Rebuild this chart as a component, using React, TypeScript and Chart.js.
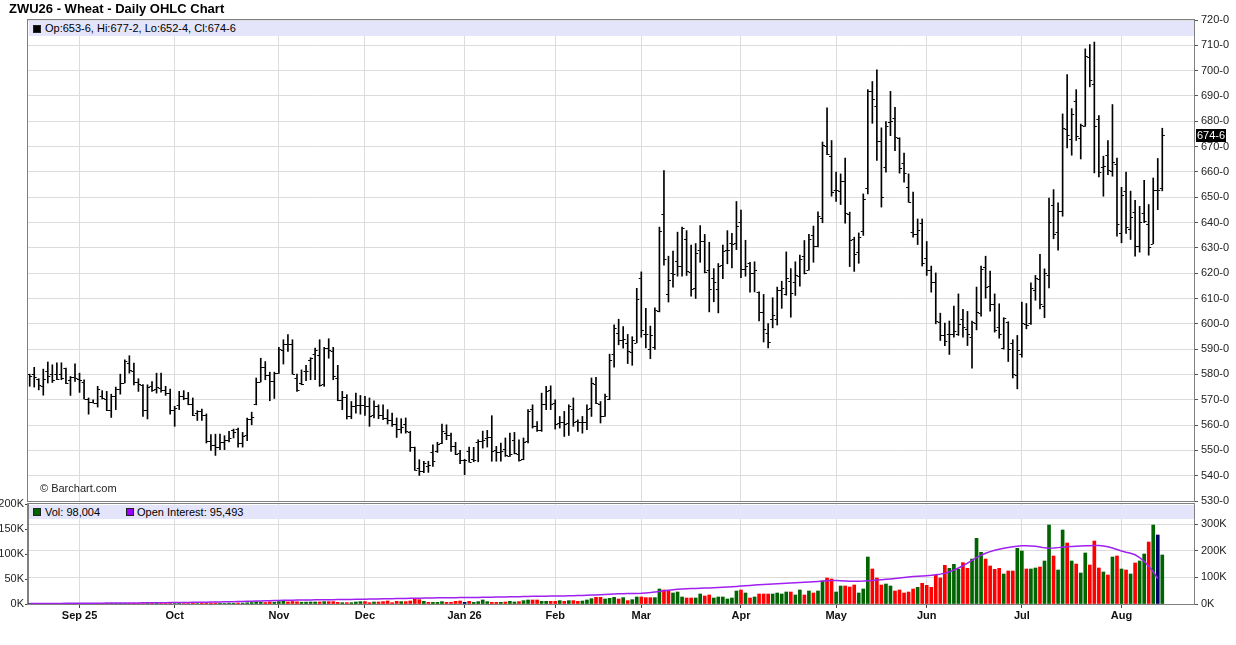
import React, { useEffect, useRef } from "react";
import { Chart, registerables } from "chart.js";

Chart.register(...registerables);

// ---------- data ----------
const chartTitle = "ZWU26 - Wheat - Daily OHLC Chart";
const firstTradingDay = "2025-08-15";
const exchangeHolidays = [
  "2025-09-01", "2025-11-27", "2025-12-25", "2026-01-01", "2026-01-19",
  "2026-02-16", "2026-04-03", "2026-05-25", "2026-06-19", "2026-07-03",
];

const opens = [
  580.0, 580.1, 578.0, 575.5, 581.2, 580.1, 580.1, 580.1, 582.5, 577.6,
  578.8, 578.2, 577.2, 570.4, 569.3, 568.9, 571.6, 570.4, 566.1, 571.3,
  574.2, 576.6, 584.5, 581.2, 577.2, 575.9, 566.1, 575.3, 574.2, 574.6,
  573.9, 572.6, 565.8, 568.0, 571.3, 570.7, 568.4, 564.7, 565.4, 564.1,
  553.8, 552.2, 551.3, 553.4, 554.2, 558.0, 558.4, 552.9, 556.2, 562.4,
  568.3, 577.0, 582.9, 579.9, 577.5, 580.5, 589.7, 592.2, 592.0, 578.6,
  576.6, 581.2, 585.8, 588.0, 587.8, 576.2, 590.4, 589.3, 578.6, 570.0,
  570.9, 563.7, 567.4, 567.8, 568.0, 567.4, 564.1, 567.5, 564.1, 562.8,
  562.1, 560.4, 558.6, 560.4, 557.1, 551.2, 543.0, 541.7, 543.7, 549.2,
  549.6, 552.9, 556.8, 555.9, 551.6, 548.9, 546.3, 549.6, 546.6, 553.2,
  553.6, 554.9, 555.3, 550.0, 549.2, 550.5, 547.9, 554.2, 548.7, 546.6,
  553.6, 566.3, 559.7, 558.2, 568.3, 573.7, 568.7, 560.8, 561.1, 560.8,
  566.3, 561.7, 561.1, 561.4, 566.7, 576.3, 568.4, 563.7, 570.3, 588.0,
  596.3, 593.7, 592.5, 589.0, 592.5, 618.2, 595.8, 589.9, 590.9, 605.0,
  643.4, 611.6, 620.1, 625.0, 623.0, 633.3, 620.4, 614.2, 629.3, 632.6,
  621.2, 617.9, 613.9, 623.2, 629.0, 632.0, 632.0, 640.3, 621.7, 624.1,
  620.1, 612.6, 604.6, 596.4, 601.7, 601.7, 613.3, 611.8, 616.8, 616.6,
  618.8, 626.7, 621.4, 635.0, 630.7, 641.8, 670.1, 666.2, 653.0, 652.6,
  656.6, 643.4, 633.6, 628.3, 636.8, 653.6, 691.8, 685.9, 672.1, 661.8,
  679.6, 681.2, 673.4, 663.6, 653.9, 636.2, 635.3, 639.9, 625.9, 621.4,
  616.7, 600.7, 595.7, 595.8, 595.8, 595.8, 602.0, 598.0, 594.7, 600.4,
  604.3, 622.4, 615.1, 607.9, 598.7, 590.4, 600.7, 592.5, 579.9, 588.2,
  600.1, 600.4, 613.2, 617.8, 607.0, 619.1, 646.8, 636.2, 644.5, 677.0,
  672.8, 687.9, 673.2, 678.3, 705.4, 694.9, 680.9, 662.0, 666.8, 660.3,
  663.3, 635.7, 652.4, 637.5, 644.1, 630.9, 643.6, 639.6, 631.7, 652.75,
  653.75,
];
const highs = [
  580.1, 582.8, 578.3, 582.1, 584.9, 583.8, 584.6, 584.6, 582.5, 579.2,
  584.2, 580.5, 577.9, 570.7, 570.0, 575.3, 573.6, 573.3, 572.2, 575.0,
  580.1, 585.8, 587.4, 584.5, 578.3, 576.0, 575.9, 577.2, 580.5, 580.5,
  575.3, 574.2, 567.4, 573.3, 573.6, 572.9, 570.7, 565.7, 566.3, 564.4,
  556.2, 556.4, 556.4, 555.8, 557.5, 558.4, 558.8, 557.1, 562.8, 565.1,
  578.6, 586.4, 585.1, 580.9, 580.9, 590.7, 593.7, 595.7, 593.7, 580.1,
  581.8, 583.6, 586.6, 590.4, 593.7, 590.7, 594.1, 590.7, 583.6, 573.3,
  572.0, 569.3, 572.6, 571.7, 571.3, 570.7, 569.6, 568.0, 568.0, 566.1,
  564.7, 562.8, 562.5, 562.8, 557.5, 551.3, 546.3, 545.7, 545.7, 552.2,
  553.2, 560.4, 560.1, 556.8, 553.2, 550.0, 546.5, 551.3, 551.2, 554.2,
  557.6, 557.9, 563.7, 551.6, 552.9, 554.9, 556.8, 557.1, 554.2, 554.9,
  566.1, 568.0, 561.4, 572.6, 575.3, 575.5, 570.0, 563.4, 565.4, 568.0,
  570.7, 562.1, 563.4, 568.0, 578.6, 578.9, 569.3, 572.2, 588.0, 599.6,
  601.8, 598.9, 595.8, 594.9, 614.0, 620.5, 606.1, 599.1, 606.3, 638.2,
  660.5, 626.7, 628.7, 636.2, 638.2, 636.8, 631.1, 631.7, 638.8, 635.3,
  632.2, 621.8, 623.8, 631.1, 636.8, 635.7, 648.3, 644.9, 633.0, 624.3,
  624.5, 612.6, 611.6, 600.1, 610.3, 614.5, 616.8, 628.4, 621.8, 624.5,
  627.1, 632.9, 635.3, 638.6, 644.2, 671.8, 685.3, 672.4, 659.9, 659.2,
  665.5, 644.1, 634.2, 635.9, 651.3, 692.5, 695.7, 700.3, 677.4, 679.9,
  691.8, 685.5, 673.5, 667.4, 659.2, 652.0, 641.4, 641.4, 632.5, 622.8,
  620.1, 604.2, 600.3, 601.1, 607.0, 611.8, 605.7, 604.9, 601.1, 614.5,
  622.8, 626.7, 620.8, 611.8, 607.9, 602.4, 600.8, 593.7, 595.4, 608.6,
  608.0, 616.2, 619.1, 627.4, 621.7, 649.7, 653.0, 647.8, 682.9, 698.4,
  685.0, 692.5, 678.9, 708.6, 710.3, 711.3, 682.2, 666.2, 672.4, 686.6,
  665.5, 653.9, 659.9, 652.4, 648.8, 646.4, 656.7, 647.1, 657.6, 665.3,
  677.25,
];
const lows = [
  575.3, 575.0, 573.9, 571.8, 576.6, 576.8, 577.9, 577.9, 576.3, 571.7,
  577.2, 572.9, 570.3, 564.3, 568.7, 567.1, 570.3, 565.7, 563.0, 566.1,
  572.2, 576.6, 580.5, 575.9, 573.3, 563.4, 562.4, 573.3, 572.6, 573.0,
  571.7, 564.3, 559.5, 566.1, 570.0, 568.0, 563.7, 561.8, 561.8, 552.9,
  550.0, 548.0, 550.3, 550.3, 553.3, 554.9, 551.3, 551.3, 553.8, 560.1,
  568.0, 577.0, 577.9, 569.6, 570.5, 580.4, 584.1, 589.1, 580.1, 573.3,
  575.9, 577.5, 577.9, 577.9, 575.3, 575.3, 586.4, 577.9, 569.6, 566.1,
  562.4, 562.5, 564.7, 564.3, 563.8, 559.5, 562.8, 562.5, 562.1, 560.4,
  559.5, 555.1, 556.8, 556.8, 549.6, 542.1, 540.1, 541.2, 541.3, 543.7,
  549.2, 552.6, 554.2, 549.6, 548.3, 544.7, 540.4, 545.3, 545.5, 545.5,
  550.9, 551.3, 545.7, 545.7, 545.7, 547.6, 547.6, 548.6, 545.7, 546.3,
  552.9, 558.8, 557.5, 557.5, 566.1, 566.1, 558.4, 558.8, 555.5, 555.9,
  559.5, 557.5, 556.8, 558.2, 563.4, 568.4, 560.8, 563.4, 570.0, 582.9,
  591.7, 590.4, 584.3, 583.6, 592.5, 594.7, 590.5, 586.2, 589.9, 604.7,
  623.2, 608.6, 614.5, 618.8, 618.8, 619.1, 610.9, 610.0, 624.3, 620.1,
  604.7, 608.7, 604.3, 617.8, 623.7, 622.1, 629.3, 618.2, 618.8, 612.5,
  612.6, 601.1, 592.8, 590.5, 598.4, 599.5, 606.1, 611.3, 602.6, 611.2,
  614.9, 619.7, 621.2, 624.3, 630.4, 639.9, 666.8, 650.4, 648.3, 647.1,
  639.7, 622.6, 620.7, 623.9, 634.9, 651.3, 679.2, 664.5, 646.1, 659.9,
  674.3, 668.4, 659.5, 655.9, 648.0, 634.2, 631.3, 622.8, 619.1, 612.5,
  600.0, 593.4, 591.4, 587.9, 594.7, 595.4, 594.7, 591.4, 582.5, 597.6,
  603.0, 610.1, 605.0, 596.7, 594.3, 590.0, 585.1, 578.6, 574.3, 586.8,
  598.0, 599.8, 609.3, 605.9, 602.4, 614.2, 633.6, 629.1, 642.5, 669.5,
  666.6, 672.4, 665.1, 678.0, 693.6, 659.6, 658.0, 650.4, 658.9, 658.3,
  634.6, 632.0, 635.7, 633.3, 626.7, 628.3, 639.9, 627.1, 631.6, 645.1,
  652.5,
];
const closes = [
  579.2, 578.8, 575.9, 578.3, 579.2, 577.9, 578.2, 578.6, 576.8, 578.8,
  578.6, 577.9, 570.4, 569.3, 568.9, 574.2, 570.7, 566.1, 571.3, 574.2,
  576.6, 585.4, 581.6, 577.2, 576.3, 566.1, 574.9, 573.9, 574.9, 573.7,
  572.6, 565.8, 566.6, 571.3, 570.7, 568.4, 564.1, 565.4, 564.1, 553.8,
  552.2, 551.3, 553.4, 554.2, 554.9, 557.1, 552.9, 555.8, 562.4, 563.2,
  577.0, 582.9, 579.9, 577.5, 580.5, 590.0, 592.2, 592.0, 580.3, 574.0,
  576.2, 581.4, 586.4, 589.7, 575.7, 590.4, 589.7, 579.2, 570.0, 570.9,
  563.7, 567.4, 567.8, 568.0, 567.4, 563.7, 567.5, 564.1, 562.8, 562.1,
  560.4, 558.6, 559.1, 557.8, 551.2, 542.4, 541.7, 545.0, 544.3, 545.8,
  552.6, 557.5, 555.9, 551.6, 548.6, 546.3, 546.3, 545.4, 546.3, 553.6,
  554.2, 555.3, 549.6, 549.2, 549.6, 548.3, 548.6, 548.9, 546.3, 553.2,
  565.4, 559.7, 558.2, 568.4, 573.3, 568.4, 560.4, 561.1, 560.5, 567.4,
  561.4, 561.1, 561.4, 566.4, 576.6, 568.7, 563.7, 571.3, 585.8, 598.3,
  593.7, 594.1, 589.2, 593.6, 609.9, 597.4, 596.1, 595.6, 605.4, 636.8,
  625.4, 617.1, 619.5, 623.0, 637.9, 620.8, 613.6, 627.8, 632.9, 620.4,
  613.9, 616.4, 622.8, 628.7, 629.3, 631.7, 638.6, 621.7, 622.8, 620.1,
  621.4, 604.6, 597.8, 592.9, 603.3, 613.3, 614.0, 618.2, 612.0, 619.1,
  625.7, 620.1, 633.3, 630.7, 642.5, 670.8, 667.0, 652.0, 652.9, 656.6,
  643.7, 633.2, 627.6, 634.2, 649.3, 691.8, 688.8, 672.1, 650.0, 678.0,
  680.3, 673.7, 661.4, 659.5, 648.3, 635.3, 637.2, 624.0, 621.4, 616.7,
  601.1, 595.7, 593.2, 595.9, 597.1, 600.0, 598.7, 596.1, 600.7, 604.6,
  621.7, 614.5, 607.9, 597.4, 596.1, 602.2, 590.1, 580.3, 589.5, 600.3,
  599.6, 614.2, 618.2, 608.0, 620.1, 640.1, 635.3, 644.5, 677.4, 674.7,
  682.9, 674.1, 678.4, 705.9, 696.4, 678.3, 660.0, 662.2, 660.9, 663.8,
  639.6, 650.8, 638.3, 642.2, 630.9, 640.1, 640.5, 630.4, 652.75, 652.75,
  674.75,
];

// volume, thousands of contracts (left scale)
const volumesK = [
  0.4, 0.3, 0.5, 0.4, 0.3, 0.5, 0.4, 0.6, 0.5, 0.4,
  0.5, 0.6, 0.7, 0.5, 0.6, 0.5, 0.4, 0.6, 0.5, 0.7,
  0.6, 0.8, 0.7, 0.6, 0.5, 0.9, 0.8, 0.6, 0.7, 0.8,
  0.9, 0.7, 1.0, 1.2, 0.9, 1.1, 1.4, 1.0, 1.3, 2.0,
  1.8, 2.2, 1.5, 1.2, 1.6, 1.4, 2.0, 1.8, 2.5, 3.0,
  4.5, 3.8, 3.0, 4.2, 3.6, 4.8, 5.5, 4.2, 5.0, 4.4,
  3.6, 3.8, 4.0, 4.0, 4.0, 4.7, 4.7, 4.7, 3.3, 2.7,
  2.7, 2.7, 4.0, 4.7, 4.7, 2.7, 4.0, 4.0, 4.7, 6.0,
  2.7, 5.3, 4.7, 4.7, 6.0, 10.0, 8.7, 5.3, 3.3, 3.3,
  3.3, 4.7, 3.3, 3.3, 5.3, 6.0, 3.3, 5.3, 3.3, 4.7,
  8.0, 4.7, 3.3, 3.3, 3.3, 4.0, 5.3, 4.0, 4.7, 6.7,
  8.0, 8.0, 8.0, 5.3, 5.3, 5.3, 5.3, 6.7, 5.3, 6.7,
  6.7, 5.3, 6.0, 8.0, 10.7, 13.3, 13.3, 10.0, 11.3, 13.3,
  10.0, 12.7, 6.7, 8.7, 14, 14, 12.7, 12.7, 12.7, 30,
  28, 26, 22, 24, 14, 12, 12, 12, 20, 16,
  18, 12, 14, 14, 10, 12, 26, 28, 22, 12,
  14, 20, 20, 20, 20, 22, 20, 24, 24, 18,
  28, 18, 26, 22, 26, 46, 52, 50, 24, 36,
  36, 34, 38, 22, 30, 94, 70, 52, 38, 40,
  36, 26, 28, 22, 24, 30, 33.3, 41.3, 37.3, 33.3,
  58, 52, 77.3, 71.3, 79.3, 69.3, 82.7, 71.3, 90, 131.3,
  103.3, 90, 76, 69.3, 71.3, 60, 66, 66, 111.3, 106,
  70, 70, 72, 74, 86, 158, 96, 68, 148, 122,
  86, 80, 62, 102, 78, 126, 72, 64, 58, 94,
  96, 70, 68, 60, 82, 86, 100, 124, 158, 138,
  98.004,
];

// open interest, thousands of contracts (right scale)
const openInterestK: (number | null)[] = [
  1.8, 1.9, 2.0, 2.0, 2.1, 2.2, 2.3, 2.3, 2.4, 2.5,
  2.6, 2.7, 2.8, 2.9, 3.0, 3.1, 3.2, 3.3, 3.4, 3.5,
  3.6, 3.8, 3.9, 4.0, 4.1, 4.3, 4.4, 4.6, 4.7, 4.9,
  5.0, 5.2, 5.4, 5.6, 5.8, 6.0, 6.3, 6.5, 6.8, 7.0,
  7.3, 7.6, 7.9, 8.2, 8.5, 8.9, 9.2, 9.6, 10.0, 10.4,
  10.9, 11.4, 11.9, 12.3, 12.8, 13.2, 13.6, 14.0, 14.3, 14.6,
  14.8, 15.1, 15.4, 15.6, 15.8, 16.0, 16.2, 16.4, 16.6, 16.9,
  17.1, 17.3, 17.6, 17.8, 18.1, 18.4, 18.7, 19.0, 19.3, 19.6,
  19.9, 20.2, 20.5, 20.8, 21.1, 21.5, 21.8, 22.1, 22.4, 22.7,
  23.0, 23.2, 23.4, 23.6, 23.8, 24.0, 24.1, 24.3, 24.5, 24.8,
  25.1, 25.4, 25.7, 26.0, 26.4, 26.7, 27.0, 27.3, 27.6, 27.9,
  28.3, 28.6, 28.9, 29.2, 29.5, 29.7, 29.9, 30.1, 30.4, 30.7,
  31.1, 31.6, 32.1, 32.7, 33.3, 34.0, 34.8, 35.6, 36.4, 37.2,
  38.0, 38.6, 39.1, 39.5, 39.8, 40.2, 41.5, 43.0, 45.0, 47.2,
  49.5, 51.6, 53.5, 55.0, 56.2, 57.0, 57.8, 58.5, 59.1, 59.6,
  60.2, 60.9, 61.6, 62.5, 63.5, 64.6, 66.0, 67.4, 68.5, 69.6,
  70.8, 72.0, 73.1, 74.2, 75.3, 76.3, 77.2, 78.1, 78.9, 79.6,
  80.3, 81.2, 82.2, 83.3, 84.6, 86.0, 87.3, 88.1, 88.4, 87.6,
  86.5, 85.6, 85.2, 85.4, 86.1, 87.2, 88.5, 89.8, 91.2, 92.6,
  94.0, 95.6, 97.3, 99.2, 101.0, 102.8, 104.2, 105.3, 106.4, 107.8,
  109.6, 112.0, 115.6, 120.8, 127.4, 135.0, 143.5, 153.0, 163.5, 174.0,
  183.0, 190.5, 196.5, 201.5, 205.5, 209.0, 212.0, 214.8, 216.9, 218.0,
  218.3, 217.8, 216.2, 213.5, 210.5, 209.0, 209.8, 211.4, 213.2, 214.8,
  216.0, 216.9, 217.6, 218.2, 218.9, 219.3, 219.0, 217.6, 214.5, 210.0,
  204.5, 198.7, 194.0, 190.0, 184.5, 174.0, 160.5, 142.0, 121.0, 95.493,
  null,
];

// axis settings
const priceMin = 530;
const priceMax = 720;
const priceStep = 10;
const volAxisMax = 200;
const volAxisStep = 50;
const oiAxisMax = 375;
const oiAxisStep = 100;
const xMin = -0.375;
const xMax = 257;

// ---------- helpers ----------
const MONTHS = ["Jan", "Feb", "Mar", "Apr", "May", "Jun", "Jul", "Aug", "Sep", "Oct", "Nov", "Dec"];
function buildTradingDays(start: string, count: number, holidays: string[]) {
  const out: Date[] = [];
  const hol = new Set(holidays);
  const d = new Date(start + "T12:00:00Z");
  while (out.length < count) {
    const dow = d.getUTCDay();
    const iso = d.toISOString().slice(0, 10);
    if (dow !== 0 && dow !== 6 && !hol.has(iso)) out.push(new Date(d.getTime()));
    d.setUTCDate(d.getUTCDate() + 1);
  }
  return out;
}
const tradingDays = buildTradingDays(firstTradingDay, closes.length, exchangeHolidays);
const monthStarts: number[] = [];
const monthLabels: Record<number, string> = {};
tradingDays.forEach((d, i) => {
  if (i > 0 && d.getUTCMonth() !== tradingDays[i - 1].getUTCMonth()) {
    monthStarts.push(i);
    const m = d.getUTCMonth();
    monthLabels[i] =
      monthStarts.length === 1 || m === 0
        ? `${MONTHS[m]} ${String(d.getUTCFullYear()).slice(2)}`
        : MONTHS[m];
  }
});

const fmtPrice = (p: number) => {
  const w = Math.floor(p);
  return `${w}-${Math.round((p - w) * 8)}`;
};
const last = closes.length - 1;
const lastOI = (() => {
  for (let i = openInterestK.length - 1; i >= 0; i--) if (openInterestK[i] != null) return openInterestK[i] as number;
  return 0;
})();
const fmtInt = (k: number) => Math.round(k * 1000).toLocaleString("en-US");

const FONT = "'Liberation Sans', Arial, Helvetica, sans-serif";
const UP = "#006400";
const DOWN = "#ff0000";
const FLAT = "#000066";
const OI_COLOR = "#a020f0";
const GRID = "#dcdcdc";
const FRAME = "#808080";
const BAND = "#e4e4fa";

const volColor = (i: number) => {
  if (i === 0) return UP;
  if (closes[i] > closes[i - 1]) return UP;
  if (closes[i] < closes[i - 1]) return DOWN;
  return FLAT;
};

const framePlugin = {
  id: "panelFrame",
  afterDraw(chart: any) {
    const { ctx, chartArea: a } = chart;
    ctx.save();
    ctx.strokeStyle = FRAME;
    ctx.lineWidth = 1;
    ctx.strokeRect(Math.round(a.left) - 0.5, Math.round(a.top) - 0.5, Math.round(a.right - a.left) + 1, Math.round(a.bottom - a.top) + 1);
    ctx.restore();
  },
};

const ohlcTickPlugin = {
  id: "ohlcTicks",
  afterDatasetsDraw(chart: any) {
    const { ctx } = chart;
    const x = chart.scales.x;
    const y = chart.scales.y;
    ctx.save();
    ctx.strokeStyle = "#000";
    ctx.lineWidth = 1;
    ctx.beginPath();
    for (let i = 0; i < opens.length; i++) {
      const px = x.getPixelForValue(i);
      const yo = Math.round(y.getPixelForValue(opens[i])) + 0.5;
      const yc = Math.round(y.getPixelForValue(closes[i])) + 0.5;
      ctx.moveTo(px - 2.5, yo);
      ctx.lineTo(px - 0.5, yo);
      ctx.moveTo(px + 0.5, yc);
      ctx.lineTo(px + 2.5, yc);
    }
    ctx.stroke();
    // last price marker on the right axis
    const yl = y.getPixelForValue(closes[last]);
    const left = chart.chartArea.right + 2;
    ctx.fillStyle = "#000";
    ctx.fillRect(left, Math.round(yl) - 6, 30, 13);
    ctx.fillStyle = "#fff";
    ctx.font = `11px ${FONT}`;
    ctx.textBaseline = "middle";
    ctx.textAlign = "left";
    ctx.fillText(fmtPrice(closes[last]), left + 1, Math.round(yl) + 0.5);
    ctx.restore();
  },
};

const monthTicks = (scale: any) => {
  scale.ticks = monthStarts.map((v) => ({ value: v }));
};

export default function App() {
  const priceRef = useRef<HTMLCanvasElement | null>(null);
  const volRef = useRef<HTMLCanvasElement | null>(null);

  useEffect(() => {
    const pc = new Chart(priceRef.current as HTMLCanvasElement, {
      type: "bar",
      data: {
        datasets: [
          {
            label: "High-Low",
            data: highs.map((h, i) => ({ x: i, y: [lows[i], h] })) as any,
            backgroundColor: "#000",
            barThickness: 1,
          },
        ],
      },
      options: {
        animation: false,
        responsive: false,
        events: [],
        layout: { padding: { left: 28, top: 20, right: 0, bottom: 11 } },
        plugins: { legend: { display: false }, tooltip: { enabled: false } },
        scales: {
          x: {
            type: "linear",
            min: xMin,
            max: xMax,
            offset: false,
            afterBuildTicks: monthTicks,
            afterFit: (s: any) => {
              s.height = 0;
            },
            ticks: { display: false },
            grid: { color: GRID, drawTicks: false, offset: false },
            border: { display: false },
          },
          y: {
            position: "right",
            min: priceMin,
            max: priceMax,
            afterFit: (s: any) => {
              s.width = 42;
            },
            ticks: {
              stepSize: priceStep,
              callback: (v: any) => `${v}-0`,
              color: "#222",
              font: { size: 11, family: FONT },
              padding: 3,
            },
            grid: { color: GRID, tickColor: "#555", tickLength: 4 },
            border: { color: FRAME },
          },
        },
      } as any,
      plugins: [ohlcTickPlugin, framePlugin],
    });

    const vc = new Chart(volRef.current as HTMLCanvasElement, {
      type: "bar",
      data: {
        datasets: [
          {
            type: "line",
            label: "Open Interest",
            data: openInterestK.map((v, i) => ({ x: i, y: v })) as any,
            yAxisID: "yo",
            borderColor: OI_COLOR,
            borderWidth: 1.5,
            pointRadius: 0,
            tension: 0,
            spanGaps: false,
            order: 0,
          },
          {
            type: "bar",
            label: "Volume",
            data: volumesK.map((v, i) => ({ x: i, y: v })) as any,
            yAxisID: "yv",
            backgroundColor: volumesK.map((_, i) => volColor(i)),
            barThickness: 3,
            order: 1,
          },
        ],
      },
      options: {
        animation: false,
        responsive: false,
        events: [],
        layout: { padding: { left: 0, top: 14, right: 0, bottom: 0 } },
        plugins: { legend: { display: false }, tooltip: { enabled: false } },
        scales: {
          x: {
            type: "linear",
            min: xMin,
            max: xMax,
            offset: false,
            afterBuildTicks: monthTicks,
            afterFit: (s: any) => {
              s.height = 21;
            },
            ticks: {
              autoSkip: false,
              maxRotation: 0,
              minRotation: 0,
              padding: 1,
              color: "#111",
              font: { size: 11, weight: "bold", family: FONT },
              callback: (v: any) => monthLabels[v] ?? "",
            },
            grid: { color: GRID, tickColor: "#444", tickLength: 4, offset: false },
            border: { color: FRAME },
          },
          yv: {
            position: "left",
            min: 0,
            max: volAxisMax,
            afterFit: (s: any) => {
              s.width = 28;
            },
            ticks: {
              stepSize: volAxisStep,
              callback: (v: any) => `${v}K`,
              color: "#222",
              font: { size: 11, family: FONT },
              padding: 1,
            },
            grid: { drawOnChartArea: false, tickColor: "#444", tickLength: 3 },
            border: { color: FRAME },
          },
          yo: {
            position: "right",
            min: 0,
            max: oiAxisMax,
            afterFit: (s: any) => {
              s.width = 42;
            },
            ticks: {
              stepSize: oiAxisStep,
              includeBounds: false,
              callback: (v: any) => `${v}K`,
              color: "#222",
              font: { size: 11, family: FONT },
              padding: 3,
            },
            grid: { color: GRID, tickColor: "#555", tickLength: 4 },
            border: { color: FRAME },
          },
        },
      } as any,
      plugins: [framePlugin],
    });

    return () => {
      pc.destroy();
      vc.destroy();
    };
  }, []);

  const o = opens[last], h = highs[last], l = lows[last], c = closes[last];
  const square = (bg: string): React.CSSProperties => ({
    position: "absolute",
    width: 6,
    height: 6,
    background: bg,
    border: "1px solid #222",
    top: 3,
  });

  return (
    <div
      style={{
        position: "absolute",
        left: 0,
        top: 0,
        width: 1236,
        height: 645,
        background: "#fff",
        fontFamily: FONT,
        overflow: "hidden",
      }}
    >
      <canvas
        ref={priceRef}
        width={1236}
        height={512}
        style={{ position: "absolute", left: 0, top: 0, width: 1236, height: 512 }}
      />
      <canvas
        ref={volRef}
        width={1236}
        height={135}
        style={{ position: "absolute", left: 0, top: 490, width: 1236, height: 135 }}
      />
      <div
        style={{
          position: "absolute",
          left: 9,
          top: 1,
          fontSize: 13,
          fontWeight: "bold",
          lineHeight: "16px",
          color: "#000",
          whiteSpace: "nowrap",
        }}
      >
        {chartTitle}
      </div>
      <div
        style={{
          position: "absolute",
          left: 29,
          top: 21,
          width: 1165,
          height: 15,
          background: BAND,
          fontSize: 11,
          lineHeight: "15px",
          color: "#000",
          whiteSpace: "nowrap",
        }}
      >
        <span style={{ ...square("#000"), left: 4, top: 4 }} />
        <span style={{ position: "absolute", left: 16 }}>
          {`Op:${fmtPrice(o)}, Hi:${fmtPrice(h)}, Lo:${fmtPrice(l)}, Cl:${fmtPrice(c)}`}
        </span>
      </div>
      <div
        style={{
          position: "absolute",
          left: 40,
          top: 482,
          fontSize: 11,
          lineHeight: "13px",
          color: "#222",
          whiteSpace: "nowrap",
        }}
      >
        © Barchart.com
      </div>
      <div
        style={{
          position: "absolute",
          left: 29,
          top: 505,
          width: 1165,
          height: 14,
          background: BAND,
          fontSize: 11,
          lineHeight: "14px",
          color: "#000",
          whiteSpace: "nowrap",
        }}
      >
        <span style={{ ...square(UP), left: 4 }} />
        <span style={{ position: "absolute", left: 16 }}>{`Vol: ${fmtInt(volumesK[last])}`}</span>
        <span style={{ ...square("#9900ff"), left: 97 }} />
        <span style={{ position: "absolute", left: 108 }}>{`Open Interest: ${fmtInt(lastOI)}`}</span>
      </div>
    </div>
  );
}
